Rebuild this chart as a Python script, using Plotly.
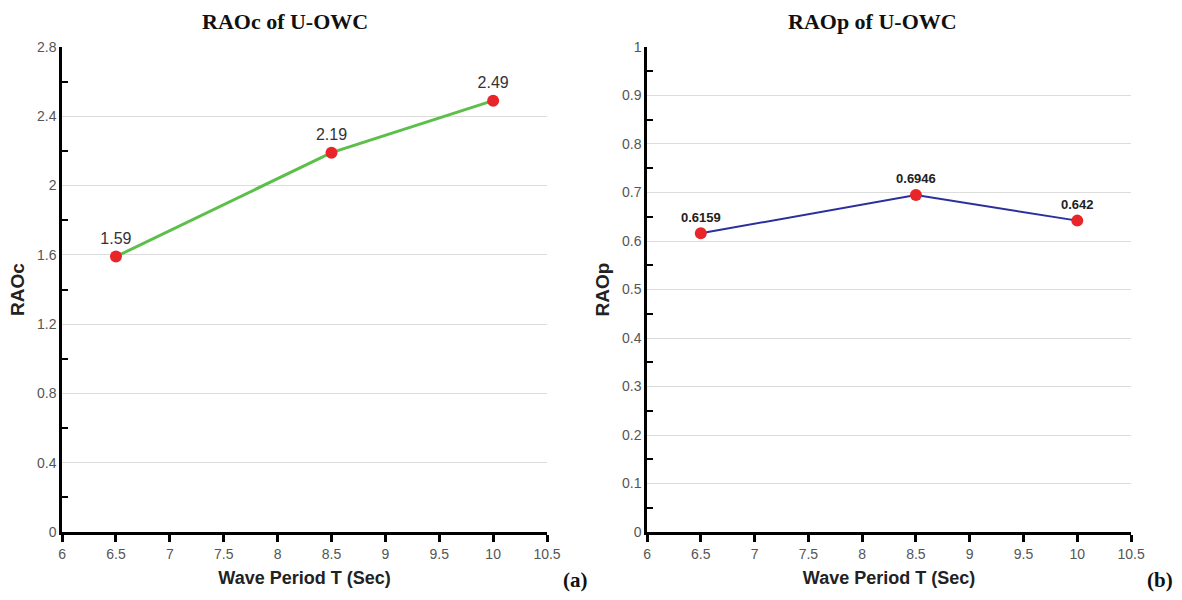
import plotly.graph_objects as go

periods = [6.5, 8.5, 10]
raoc = [1.59, 2.19, 2.49]
raop = [0.6159, 0.6946, 0.642]
raoc_labels = ["1.59", "2.19", "2.49"]
raop_labels = ["0.6159", "0.6946", "0.642"]
x_ticks = [6, 6.5, 7, 7.5, 8, 8.5, 9, 9.5, 10, 10.5]
x_tick_text = ["6", "6.5", "7", "7.5", "8", "8.5", "9", "9.5", "10", "10.5"]

fig = go.Figure()
fig.add_trace(go.Scatter(
    x=periods, y=raoc, mode="lines+markers+text", text=raoc_labels,
    textposition="top center", textfont=dict(family="Liberation Sans", size=16, color="#333"),
    line=dict(color="#5cbf4a", width=3),
    marker=dict(color="#e8262a", size=12),
    xaxis="x", yaxis="y", showlegend=False, cliponaxis=False))
fig.add_trace(go.Scatter(
    x=periods, y=raop, mode="lines+markers+text", text=["<b>%s</b>" % t for t in raop_labels],
    textposition="top center", textfont=dict(family="Liberation Sans", size=13, color="#222"),
    line=dict(color="#2b2f9e", width=2),
    marker=dict(color="#e8262a", size=12),
    xaxis="x2", yaxis="y2", showlegend=False, cliponaxis=False))

xcommon = dict(range=[6, 10.5], tickvals=x_ticks, ticktext=x_tick_text, showgrid=False,
               showline=True, linecolor="black", linewidth=2.5, ticks="outside",
               ticklen=7, tickwidth=2.5, tickcolor="black", zeroline=False, automargin=False,
               tickfont=dict(family="Liberation Sans", size=14, color="#555"),
               title=dict(text="<b>Wave Period T (Sec)</b>", standoff=11,
                          font=dict(family="Liberation Sans", size=18, color="#222")))
ycommon = dict(showgrid=True, gridcolor="#dcdcdc", gridwidth=1, showline=True,
               linecolor="black", linewidth=2.5, ticks="", zeroline=False, automargin=False,
               tickfont=dict(family="Liberation Sans", size=14, color="#555"))

fig.update_layout(
    width=1182, height=600, margin=dict(l=0, r=0, t=0, b=0),
    paper_bgcolor="white", plot_bgcolor="white",
    xaxis=dict(domain=[0.0525, 0.4628], anchor="y", **xcommon),
    yaxis=dict(domain=[0.1133, 0.9217], anchor="x", range=[0, 2.8], dtick=0.4, tick0=0,
               minor=dict(ticks="inside", dtick=0.2, tick0=0, ticklen=6, tickwidth=2,
                          tickcolor="black", showgrid=False),
               title=dict(text="<b>RAOc</b>", standoff=8,
                          font=dict(family="Liberation Sans", size=19, color="#222")),
               **ycommon),
    xaxis2=dict(domain=[0.5474, 0.9569], anchor="y2", **xcommon),
    yaxis2=dict(domain=[0.1133, 0.9217], anchor="x2", range=[0, 1], dtick=0.1, tick0=0,
                minor=dict(ticks="inside", dtick=0.05, tick0=0, ticklen=6, tickwidth=2,
                           tickcolor="black", showgrid=False),
                title=dict(text="<b>RAOp</b>", standoff=8,
                           font=dict(family="Liberation Sans", size=19, color="#222")),
                **ycommon),
    annotations=[
        dict(text="<b>RAOc of U-OWC</b>", x=285 / 1182, y=1 - 22 / 600, xref="paper", yref="paper",
             xanchor="center", yanchor="middle",
             showarrow=False, font=dict(family="Liberation Serif", size=22, color="#111")),
        dict(text="<b>RAOp of U-OWC</b>", x=872 / 1182, y=1 - 22 / 600, xref="paper", yref="paper",
             xanchor="center", yanchor="middle",
             showarrow=False, font=dict(family="Liberation Serif", size=22, color="#111")),
        dict(text="<b>(a)</b>", x=575 / 1182, y=1 - 580 / 600, xref="paper", yref="paper",
             xanchor="center", yanchor="middle",
             showarrow=False, font=dict(family="Liberation Serif", size=21, color="#111")),
        dict(text="<b>(b)</b>", x=1160 / 1182, y=1 - 580 / 600, xref="paper", yref="paper",
             xanchor="center", yanchor="middle",
             showarrow=False, font=dict(family="Liberation Serif", size=21, color="#111")),
    ],
)

fig.write_html("out.html", config={"displayModeBar": False},
               post_script="document.body.style.margin='0';document.body.style.overflow='hidden';")
